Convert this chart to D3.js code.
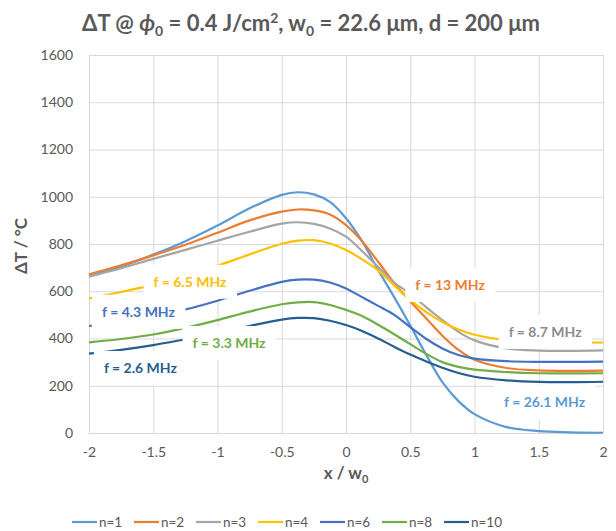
<!DOCTYPE html>
<html>
<head>
<meta charset="utf-8">
<script src="https://cdn.jsdelivr.net/npm/d3@7"></script>
<style>
  body { margin: 0; background: #fff; }
  svg text { font-family: Lato, "Open Sans", sans-serif; }
</style>
</head>
<body>
<div id="chart"></div>
<script>
// values
const xs = [-2, -1.75, -1.5, -1.25, -1, -0.75, -0.5, -0.375, -0.25, -0.125, 0, 0.125, 0.25, 0.375, 0.5, 0.625, 0.75, 0.875, 1, 1.25, 1.5, 1.75, 2];
const n1  = [665, 705, 755, 812, 878, 951, 1008, 1019, 1010, 978, 909, 812, 690, 575, 455, 330, 215, 135, 80, 25, 8, 3, 1];
const n2  = [672, 710, 752, 797, 848, 900, 937, 946, 942, 925, 880, 812, 725, 635, 558, 485, 412, 352, 310, 275, 265, 263, 264];
const n3  = [662, 698, 737, 775, 814, 852, 886, 892, 885, 866, 831, 770, 703, 637, 590, 532, 478, 428, 392, 358, 349, 348, 350];
const n4  = [570, 597, 627, 665, 708, 756, 801, 814, 816, 802, 775, 735, 688, 625, 563, 512, 470, 438, 416, 393, 385, 383, 383];
const n6  = [453, 472, 495, 523, 560, 602, 640, 649, 649, 637, 612, 575, 538, 500, 448, 398, 358, 330, 315, 304, 301, 301, 302];
const n8  = [384, 398, 417, 445, 478, 514, 545, 553, 554, 542, 521, 495, 458, 418, 376, 335, 300, 280, 268, 258, 253, 252, 253];
const n10 = [336, 352, 372, 397, 423, 453, 480, 487, 486, 475, 457, 432, 400, 365, 332, 303, 276, 254, 238, 223, 216, 215, 217];

const seriesNames = ["n=1", "n=2", "n=3", "n=4", "n=6", "n=8", "n=10"];
const seriesValues = [n1, n2, n3, n4, n6, n8, n10];
const freqLabels = ["f = 26.1 MHz", "f = 13 MHz", "f = 8.7 MHz", "f = 6.5 MHz", "f = 4.3 MHz", "f = 3.3 MHz", "f = 2.6 MHz"];
const colors = ["#5B9BD5", "#ED7D31", "#A5A5A5", "#FFC000", "#4472C4", "#70AD47", "#255E91"];
const labelColors = ["#5B9BD5", "#ED7D31", "#8C8C8C", "#FFC000", "#4472C4", "#70AD47", "#255E91"];
// where each frequency label sits, in data units (centre of text)
const labelAt = [[1.545, 131], [0.81, 627], [1.55, 428], [-1.214, 640], [-1.615, 513], [-0.91, 381], [-1.6, 275]];

const xTicks = [-2, -1.5, -1, -0.5, 0, 0.5, 1, 1.5, 2];
const yTicks = [0, 200, 400, 600, 800, 1000, 1200, 1400, 1600];

const width = 616, height = 531;
const margin = {top: 55, right: 13, bottom: 98, left: 89};
const innerW = width - margin.left - margin.right;
const innerH = height - margin.top - margin.bottom;

const svg = d3.select("#chart").append("svg")
  .attr("width", width).attr("height", height);

// title
const title = svg.append("text")
  .attr("x", 311).attr("y", 31)
  .attr("text-anchor", "middle")
  .attr("fill", "#595959")
  .attr("font-size", 22).attr("font-weight", "bold");
title.append("tspan").text("ΔT @ ");
title.append("tspan").attr("font-style", "italic").text("ϕ");
title.append("tspan").attr("font-size", 14).attr("dy", 5).text("0");
title.append("tspan").attr("dy", -5).text(" = 0.4 J/cm");
title.append("tspan").attr("font-size", 14).attr("dy", -8).text("2");
title.append("tspan").attr("dy", 8).text(", w");
title.append("tspan").attr("font-size", 14).attr("dy", 5).text("0");
title.append("tspan").attr("dy", -5).text(" = 22.6 μm, d = 200 μm");

const chart = svg.append("g")
  .attr("transform", `translate(${margin.left}, ${margin.top})`);

const x = d3.scaleLinear().domain([-2, 2]).range([0, innerW]);
const y = d3.scaleLinear().domain([0, 1600]).range([innerH, 0]);

// grid + axes
const gx = chart.append("g")
  .attr("transform", `translate(0, ${innerH})`)
  .call(d3.axisBottom(x).tickValues(xTicks).tickSize(-innerH).tickPadding(14).tickFormat(d => String(d)));
const gy = chart.append("g")
  .call(d3.axisLeft(y).tickValues(yTicks).tickSize(-innerW).tickPadding(16).tickFormat(d => String(d)));
[gx, gy].forEach(g => {
  g.select(".domain").remove();
  g.selectAll(".tick line").attr("stroke", "#d9d9d9").attr("stroke-width", 1);
  g.selectAll(".tick text").attr("fill", "#595959").attr("font-size", 14)
    .attr("font-family", "Lato, sans-serif");
});

// lines
const line = d3.line()
  .x((d, i) => x(xs[i]))
  .y(d => y(d))
  .curve(d3.curveCatmullRom.alpha(0.5));

chart.selectAll(".series")
  .data(seriesValues)
  .enter().append("path")
  .attr("class", "series")
  .attr("d", d => line(d))
  .attr("fill", "none")
  .attr("stroke", (d, i) => colors[i])
  .attr("stroke-width", 2.2);

// frequency labels with white boxes that cover the lines
const labels = chart.selectAll(".flab")
  .data(freqLabels)
  .enter().append("g")
  .attr("class", "flab")
  .attr("transform", (d, i) => `translate(${x(labelAt[i][0])}, ${y(labelAt[i][1])})`);
labels.append("rect")
  .attr("fill", "#fff");
labels.append("text")
  .attr("text-anchor", "middle")
  .attr("dy", "0.35em")
  .attr("font-size", 14).attr("font-weight", "bold")
  .attr("fill", (d, i) => labelColors[i])
  .text(d => d);
labels.each(function() {
  const g = d3.select(this);
  const bb = g.select("text").node().getBBox();
  g.select("rect")
    .attr("x", bb.x - 10).attr("y", -17)
    .attr("width", bb.width + 20).attr("height", 34);
});

// axis titles
svg.append("text")
  .attr("transform", `translate(27, ${margin.top + innerH / 2 + 2}) rotate(-90)`)
  .attr("text-anchor", "middle")
  .attr("fill", "#595959").attr("font-size", 17).attr("font-weight", "bold")
  .text("ΔT / °C");

const xt = svg.append("text")
  .attr("x", margin.left + innerW / 2).attr("y", 479)
  .attr("text-anchor", "middle")
  .attr("fill", "#595959").attr("font-size", 17).attr("font-weight", "bold");
xt.append("tspan").text("x / w");
xt.append("tspan").attr("font-size", 11).attr("dy", 4).text("0");

// legend
const legend = svg.append("g").attr("transform", "translate(72, 522)");
const item = legend.selectAll(".leg")
  .data(seriesNames)
  .enter().append("g")
  .attr("transform", (d, i) => `translate(${i * 62}, 0)`);
item.append("line")
  .attr("x1", 0).attr("x2", 25)
  .attr("stroke", (d, i) => colors[i]).attr("stroke-width", 2.2);
item.append("text")
  .attr("x", 27).attr("dy", "0.35em")
  .attr("fill", "#595959").attr("font-size", 13.5)
  .text(d => d);
</script>
</body>
</html>
